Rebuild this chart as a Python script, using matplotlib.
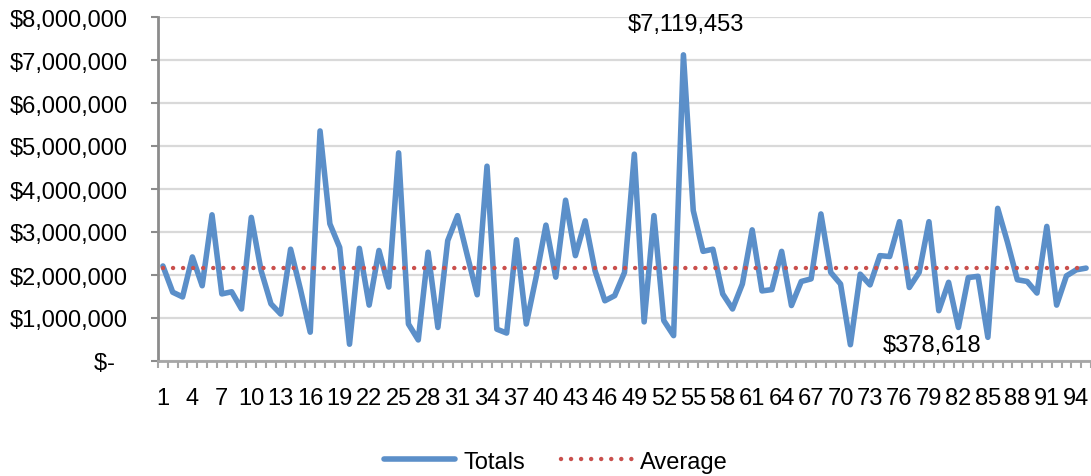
import matplotlib.pyplot as plt
import numpy as np
from matplotlib.ticker import FuncFormatter, MultipleLocator

plt.rcParams['font.family'] = ['Liberation Sans', 'DejaVu Sans']

# Totals per period
totals = [
    2210000, 1600000, 1490000, 2420000, 1750000, 3400000, 1560000, 1610000, 1210000, 3340000,
    2100000, 1330000, 1090000, 2600000, 1670000, 670000, 5350000, 3190000, 2640000, 390000,
    2620000, 1300000, 2570000, 1720000, 4840000, 860000, 490000, 2530000, 780000, 2800000,
    3380000, 2450000, 1540000, 4530000, 740000, 650000, 2820000, 860000, 1950000, 3160000,
    1950000, 3740000, 2450000, 3260000, 2100000, 1400000, 1520000, 2060000, 4810000, 910000,
    3380000, 940000, 590000, 7119453, 3500000, 2550000, 2600000, 1560000, 1210000, 1790000,
    3050000, 1630000, 1660000, 2550000, 1290000, 1850000, 1910000, 3420000, 2060000, 1790000,
    378618, 2020000, 1770000, 2450000, 2430000, 3240000, 1710000, 2060000, 3240000, 1170000,
    1830000, 780000, 1940000, 1970000, 550000, 3550000, 2760000, 1890000, 1850000, 1580000,
    3130000, 1300000, 1980000, 2120000, 2160000,
]
average_value = 2155000
max_label = "$7,119,453"
min_label = "$378,618"

x = np.arange(1, len(totals) + 1)
avg = [average_value] * len(totals)

fs = 17

fig = plt.figure(figsize=(10.91, 4.77), dpi=100)
ax = fig.add_axes([158 / 1091, 1 - 362 / 477, 1 - 158 / 1091, (362 - 18) / 477])

ax.plot(x, totals, color='#5b8fc9', lw=4, solid_joinstyle='round', solid_capstyle='round',
        label='Totals', zorder=3)
ax.plot(x, avg, color='#c9504d', lw=3.2, linestyle=(0, (0.01, 2.25)), dash_capstyle='round',
        label='Average', zorder=4)

ax.set_xlim(0.5, 95.4)
ax.set_ylim(0, 8000000)

# Gridlines
ax.yaxis.set_major_locator(MultipleLocator(1000000))
ax.grid(axis='y', color='#d9d9d9', lw=1.6)
ax.set_axisbelow(True)

ax.yaxis.set_major_formatter(FuncFormatter(lambda v, p: "$-  " if v == 0 else "${:,.0f}".format(v)))

# Category axis: labels every 3, ticks between categories
ax.set_xticks(np.arange(1, len(totals) + 1, 3))
ax.set_xticks(np.arange(0.5, 96, 1), minor=True)
ax.tick_params(axis='x', which='major', length=0, pad=19, labelsize=fs)
ax.tick_params(axis='x', which='minor', length=5, width=1.5, color='#a6a6a6', direction='out')
ax.tick_params(axis='y', which='major', length=5, width=1.5, color='#8c8c8c', pad=16.5, labelsize=fs)

ax.spines['right'].set_color('none')
ax.spines['top'].set_color('none')
ax.spines['left'].set_color('#8c8c8c')
ax.spines['bottom'].set_color('#a6a6a6')
ax.spines['left'].set_linewidth(2)
ax.spines['bottom'].set_linewidth(2)

# Max / min labels
imax = int(np.argmax(totals))
imin = int(np.argmin(totals))
ax.annotate(max_label, (x[imax], totals[imax]), xytext=(2, 14), textcoords='offset points',
            ha='center', va='bottom', fontsize=fs)
ax.annotate(min_label, (x[imin], totals[imin]), xytext=(59, 0), textcoords='offset points',
            ha='center', va='center', fontsize=fs)

fig.legend(loc='center', bbox_to_anchor=(556 / 1091, 0.03), ncol=2, frameon=False,
           fontsize=fs, handlelength=3.0, columnspacing=1.5, handletextpad=0.35)

plt.savefig('out.png', dpi=100)
